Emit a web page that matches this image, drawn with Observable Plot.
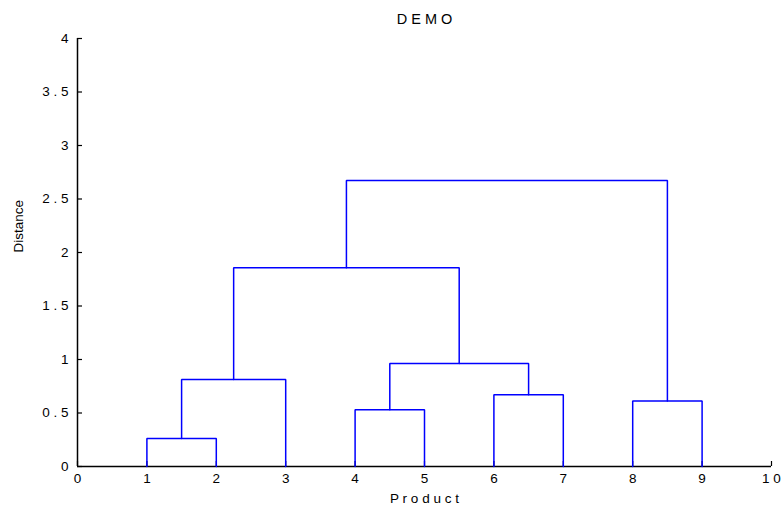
<!DOCTYPE html>
<html>
<head>
<meta charset="utf-8">
<script src="https://cdn.jsdelivr.net/npm/d3@7"></script>
<script src="https://cdn.jsdelivr.net/npm/@observablehq/plot@0.6"></script>
<style>
  body { margin: 0; background: #fff; }
  svg { font-family: "Liberation Sans", Arial, sans-serif; }
</style>
</head>
<body>
<div id="chart"></div>
<script>
const title = "DEMO";
const xLabel = "Product";
const yLabel = "Distance";
const leaves = [1, 2, 3, 4, 5, 6, 7, 8, 9];
// linkage: cluster ids 1..9 are leaves, merge i creates cluster 10+i
const mergeLeft = [1, 10, 4, 6, 12, 8, 11, 16];
const mergeRight = [2, 3, 5, 7, 13, 9, 14, 15];
const mergeHeight = [0.262, 0.813, 0.53, 0.67, 0.963, 0.611, 1.857, 2.673];
const xTicks = [0, 1, 2, 3, 4, 5, 6, 7, 8, 9, 10];
const yTicks = [0, 0.5, 1, 1.5, 2, 2.5, 3, 3.5, 4];

const spaced = s => String(s).split("").join(" ");

// dendrogram layout
const pos = new Map(leaves.map(l => [l, {x: l, h: 0}]));
const segs = [];
mergeHeight.forEach((h, i) => {
  const a = pos.get(mergeLeft[i]), b = pos.get(mergeRight[i]);
  segs.push({m: i, x: a.x, y: a.h}, {m: i, x: a.x, y: h}, {m: i, x: b.x, y: h}, {m: i, x: b.x, y: b.h});
  pos.set(leaves.length + 1 + i, {x: (a.x + b.x) / 2, h});
});

const chart = Plot.plot({
  width: 781,
  height: 510,
  marginLeft: 77,
  marginRight: 10,
  marginTop: 38,
  marginBottom: 44,
  x: {domain: [0, 10]},
  y: {domain: [0, 4]},
  style: {fontSize: "13.5px", fontFamily: "'Liberation Sans', Arial, sans-serif", color: "#000", background: "#fff"},
  marks: [
    Plot.axisY(yTicks, {tickSize: -5, tickPadding: 14, tickFormat: spaced, label: null, strokeWidth: 1.2, fontSize: 13.5, fill: "#000"}),
    Plot.axisX(xTicks, {tickSize: -5, tickPadding: 12, tickFormat: spaced, label: null, strokeWidth: 1.2, fontSize: 13.5, fill: "#000"}),
    Plot.ruleX([0], {stroke: "#000", strokeWidth: 1.5}),
    Plot.ruleY([0], {stroke: "#000", strokeWidth: 1.5}),
    Plot.line(segs, {x: "x", y: "y", z: "m", stroke: "#0000ff", strokeWidth: 1.5, strokeLinejoin: "miter", curve: "linear"}),
    Plot.text([spaced(title)], {frameAnchor: "top", dy: -25, fontSize: 14.5, fill: "#000"}),
    Plot.text([spaced(xLabel)], {frameAnchor: "bottom", dy: 36, fontSize: 13.5, fill: "#000"}),
    Plot.text([yLabel], {frameAnchor: "left", dx: -59, rotate: -90, fontSize: 13.5, fill: "#000"})
  ]
});
document.getElementById("chart").appendChild(chart);
</script>
</body>
</html>
